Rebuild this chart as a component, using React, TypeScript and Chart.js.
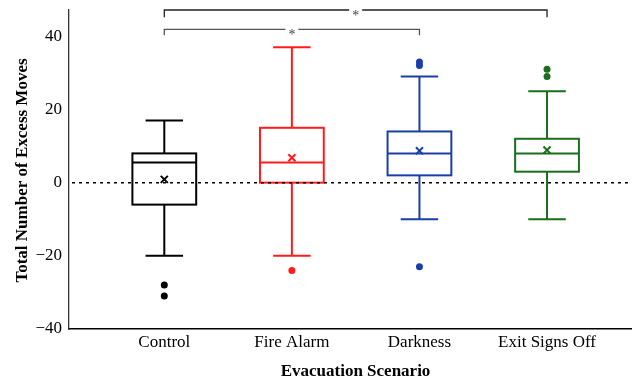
import { useEffect, useRef } from 'react';
import { Chart, registerables } from 'chart.js';

Chart.register(...registerables);

const FONT = "'Liberation Serif', 'Times New Roman', serif";

// ---- data ----
const categories = ['Control', 'Fire Alarm', 'Darkness', 'Exit Signs Off'];
const whiskerLow = [-20, -20, -10, -10];
const q1 = [-6, 0, 2, 3];
const medians = [5.5, 5.5, 8, 8];
const q3 = [8, 15, 14, 12];
const whiskerHigh = [17, 37, 29, 25];
const means = [0.9, 6.8, 8.7, 8.9];
const outliers = [[-28, -31], [-24], [-23, 32, 33], [29, 31]];
const colors = ['#000000', '#ff1c1c', '#1a3fa8', '#1b6e1b'];
const yTicks = [-40, -20, 0, 20, 40];
const sigFrom = [1, 1];
const sigTo = [3, 4];
const sigLevel = [41.9, 47.2];
const sigTickEnd = [40.3, 45.2];
const sigLabels = ['*', '*'];
const sigColors = ['#555555', '#222222'];

const BOX_HALF = 0.25;
const CAP_HALF = 0.147;

const boxPlugin = {
  id: 'boxplotDraw',
  beforeDatasetsDraw(chart: any) {
    const { ctx, scales, chartArea } = chart;
    const x = scales.x, y = scales.y;
    ctx.save();
    categories.forEach((_, i) => {
      const c = i + 1;
      const xc = x.getPixelForValue(c);
      const xl = x.getPixelForValue(c - BOX_HALF);
      const xr = x.getPixelForValue(c + BOX_HALF);
      const cl = x.getPixelForValue(c - CAP_HALF);
      const cr = x.getPixelForValue(c + CAP_HALF);
      ctx.strokeStyle = colors[i];
      ctx.lineWidth = 2;
      ctx.setLineDash([]);
      ctx.beginPath();
      ctx.moveTo(xc, y.getPixelForValue(q3[i]));
      ctx.lineTo(xc, y.getPixelForValue(whiskerHigh[i]));
      ctx.moveTo(xc, y.getPixelForValue(q1[i]));
      ctx.lineTo(xc, y.getPixelForValue(whiskerLow[i]));
      ctx.moveTo(cl, y.getPixelForValue(whiskerHigh[i]));
      ctx.lineTo(cr, y.getPixelForValue(whiskerHigh[i]));
      ctx.moveTo(cl, y.getPixelForValue(whiskerLow[i]));
      ctx.lineTo(cr, y.getPixelForValue(whiskerLow[i]));
      ctx.moveTo(xl, y.getPixelForValue(medians[i]));
      ctx.lineTo(xr, y.getPixelForValue(medians[i]));
      ctx.stroke();
      const top = y.getPixelForValue(q3[i]);
      const bot = y.getPixelForValue(q1[i]);
      ctx.strokeRect(xl, top, xr - xl, bot - top);
    });
    // zero reference line
    const y0 = y.getPixelForValue(0);
    ctx.strokeStyle = '#000000';
    ctx.lineWidth = 1.5;
    ctx.setLineDash([3, 4]);
    ctx.beginPath();
    ctx.moveTo(chartArea.left + 3, y0);
    ctx.lineTo(chartArea.right, y0);
    ctx.stroke();
    ctx.restore();
  },
  afterDraw(chart: any) {
    const { ctx, scales, chartArea } = chart;
    const x = scales.x, y = scales.y;
    ctx.save();
    ctx.setLineDash([]);
    sigFrom.forEach((f, k) => {
      const x1 = x.getPixelForValue(f);
      const x2 = x.getPixelForValue(sigTo[k]);
      const ly = y.getPixelForValue(sigLevel[k]);
      const ty = y.getPixelForValue(sigTickEnd[k]);
      const xm = (x1 + x2) / 2;
      ctx.strokeStyle = sigColors[k];
      ctx.lineWidth = 1.3;
      ctx.beginPath();
      ctx.moveTo(x1, ty);
      ctx.lineTo(x1, ly);
      ctx.lineTo(xm - 6.5, ly);
      ctx.moveTo(xm + 6.5, ly);
      ctx.lineTo(x2, ly);
      ctx.lineTo(x2, ty);
      ctx.stroke();
      ctx.fillStyle = '#444444';
      ctx.font = `14px ${FONT}`;
      ctx.textAlign = 'center';
      ctx.textBaseline = 'alphabetic';
      ctx.fillText(sigLabels[k], xm, ly + 9.5);
    });
    // axis titles
    ctx.fillStyle = '#000000';
    ctx.font = `bold 17px ${FONT}`;
    ctx.textAlign = 'center';
    ctx.textBaseline = 'alphabetic';
    ctx.fillText('Evacuation Scenario', 355.5, 376);
    ctx.translate(27, (chartArea.top + chartArea.bottom) / 2 + 1);
    ctx.rotate(-Math.PI / 2);
    ctx.fillText('Total Number of Excess Moves', 0, 0);
    ctx.restore();
  },
};

export default function App() {
  const ref = useRef<HTMLCanvasElement | null>(null);
  useEffect(() => {
    if (!ref.current) return;
    const datasets: any[] = [];
    categories.forEach((_, i) => {
      datasets.push({
        label: categories[i] + ' outliers',
        data: outliers[i].map((v) => ({ x: i + 1, y: v })),
        pointRadius: 3.5,
        pointBackgroundColor: colors[i],
        pointBorderWidth: 0,
        pointBorderColor: colors[i],
      });
      datasets.push({
        label: categories[i] + ' mean',
        data: [{ x: i + 1, y: means[i] }],
        pointStyle: 'crossRot',
        pointRadius: 5,
        pointBorderWidth: 2,
        pointBorderColor: colors[i],
        pointBackgroundColor: colors[i],
      });
    });
    const chart = new Chart(ref.current, {
      type: 'scatter',
      data: { datasets },
      plugins: [boxPlugin],
      options: {
        responsive: false,
        devicePixelRatio: 1,
        animation: false,
        layout: { autoPadding: false, padding: { top: 10, right: 0, left: 0, bottom: 0 } },
        plugins: { legend: { display: false }, tooltip: { enabled: false } },
        scales: {
          x: {
            type: 'linear',
            min: 0.253,
            max: 4.666,
            grid: { display: false, drawTicks: false },
            border: { display: true, color: '#000000', width: 1.5 },
            afterBuildTicks: (s: any) => {
              s.ticks = categories.map((_, i) => ({ value: i + 1 }));
            },
            afterFit: (s: any) => {
              s.height = 52;
              s.paddingLeft = 0;
              s.paddingRight = 0;
            },
            ticks: {
              autoSkip: false,
              maxRotation: 0,
              padding: 3,
              color: '#000000',
              font: { family: FONT, size: 17 },
              callback: (v: any) => categories[Math.round(Number(v)) - 1] ?? '',
            },
          },
          y: {
            min: -40,
            max: 47.2,
            grid: { display: false, drawTicks: false },
            border: { display: true, color: '#333333', width: 1.3 },
            afterBuildTicks: (s: any) => {
              s.ticks = yTicks.map((v) => ({ value: v }));
            },
            afterFit: (s: any) => {
              s.width = 69;
              s.paddingTop = 0;
              s.paddingBottom = 0;
            },
            ticks: {
              padding: 7,
              color: '#000000',
              font: { family: FONT, size: 17 },
              callback: (v: any) => (Number(v) < 0 ? '\u2212' + Math.abs(Number(v)) : String(v)),
            },
          },
        },
      },
    });
    let alive = true;
    if ((document as any).fonts && (document as any).fonts.ready) {
      (document as any).fonts.ready.then(() => {
        if (alive) chart.update();
      });
    }
    return () => {
      alive = false;
      chart.destroy();
    };
  }, []);
  return (
    <div style={{ position: 'fixed', left: 0, top: 0, width: 632, height: 381, background: '#ffffff' }}>
      <canvas ref={ref} width={632} height={381} style={{ width: 632, height: 381, display: 'block' }} />
    </div>
  );
}
